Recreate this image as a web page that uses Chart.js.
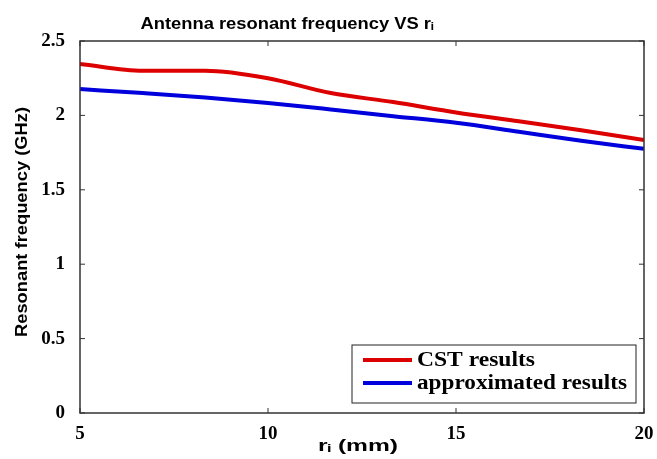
<!DOCTYPE html>
<html>
<head>
<meta charset="utf-8">
<script src="https://cdn.jsdelivr.net/npm/chart.js@4.4.1/dist/chart.umd.min.js"></script>
<style>
  html, body { margin: 0; padding: 0; background: #fff; }
  #wrap { width: 657px; height: 459px; position: relative; }
</style>
</head>
<body>
<div id="wrap"><canvas id="chart" width="657" height="459"></canvas></div>
<script>
// datos
const radius = [5, 6.67, 8.33, 10, 11.67, 13.33, 15, 16.67, 18.33, 20];
const cstResults = [2.345, 2.30, 2.30, 2.25, 2.15, 2.09, 2.02, 1.96, 1.90, 1.835];
const approxResults = [2.177, 2.15, 2.12, 2.083, 2.04, 1.995, 1.95, 1.89, 1.83, 1.775];
const xTicks = [5, 10, 15, 20];
const yTicks = [0, 0.5, 1, 1.5, 2, 2.5];

const titleText = 'Antenna resonant frequency VS r\u1D62';
const xTitle = 'r\u1D62 (mm)';
const yTitle = 'Resonant frequency (GHz)';

const sansBold = 'bold 16px "Liberation Sans", Arial, sans-serif';
const serifBold = 'bold 20px "Liberation Serif", "Times New Roman", serif';

// texto estirado horizontalmente hasta un ancho dado (la figura original esta estirada)
function fillStretched(ctx, text, x, y, width, align) {
  const w = ctx.measureText(text).width;
  const sx = width / w;
  ctx.save();
  ctx.translate(x, y);
  ctx.scale(sx, 1);
  ctx.textAlign = align;
  ctx.fillText(text, 0, 0);
  ctx.restore();
}

// marco, ticks hacia adentro, titulos y leyenda al estilo MATLAB
const matlabFrame = {
  id: 'matlabFrame',
  afterDraw(chart) {
    const ctx = chart.ctx;
    const a = chart.chartArea;
    const xs = chart.scales.x, ys = chart.scales.y;
    ctx.save();
    ctx.strokeStyle = '#333';
    ctx.lineWidth = 1.5;
    ctx.strokeRect(a.left, a.top, a.right - a.left, a.bottom - a.top);
    ctx.lineWidth = 1;
    xTicks.forEach(v => {
      const px = xs.getPixelForValue(v);
      ctx.beginPath();
      ctx.moveTo(px, a.bottom); ctx.lineTo(px, a.bottom - 5);
      ctx.moveTo(px, a.top); ctx.lineTo(px, a.top + 5);
      ctx.stroke();
    });
    yTicks.forEach(v => {
      const py = ys.getPixelForValue(v);
      ctx.beginPath();
      ctx.moveTo(a.left, py); ctx.lineTo(a.left + 5, py);
      ctx.moveTo(a.right, py); ctx.lineTo(a.right - 5, py);
      ctx.stroke();
    });

    ctx.fillStyle = '#000';
    ctx.textBaseline = 'alphabetic';

    // titulo
    ctx.font = sansBold;
    fillStretched(ctx, titleText, 287, 29, 293, 'center');

    // etiqueta eje x
    ctx.font = sansBold;
    fillStretched(ctx, xTitle, 358, 451, 80, 'center');

    // etiqueta eje y
    ctx.save();
    ctx.translate(22, 222);
    ctx.rotate(-Math.PI / 2);
    ctx.textBaseline = 'middle';
    ctx.font = 'bold 17px "Liberation Sans", Arial, sans-serif';
    fillStretched(ctx, yTitle, 0, 0, 230, 'center');
    ctx.restore();

    // leyenda
    const lx = 352, ly = 345, lw = 284, lh = 58;
    ctx.fillStyle = '#fff';
    ctx.fillRect(lx, ly, lw, lh);
    ctx.strokeStyle = '#222';
    ctx.lineWidth = 1;
    ctx.strokeRect(lx, ly, lw, lh);
    ctx.textBaseline = 'middle';
    ctx.font = serifBold;
    const legendWidths = [118, 210];
    chart.data.datasets.forEach((ds, i) => {
      const yy = ly + 15 + i * 23;
      ctx.strokeStyle = ds.borderColor;
      ctx.lineWidth = 4;
      ctx.beginPath();
      ctx.moveTo(363, yy); ctx.lineTo(412, yy);
      ctx.stroke();
      ctx.fillStyle = '#000';
      fillStretched(ctx, ds.label, 417, yy + 1, legendWidths[i], 'left');
    });
    ctx.restore();
  }
};

const tickFont = { family: '"Liberation Serif", "Times New Roman", serif', size: 19, weight: 'bold' };

new Chart(document.getElementById('chart').getContext('2d'), {
  type: 'line',
  data: {
    datasets: [
      {
        label: 'CST results',
        data: radius.map((r, i) => ({ x: r, y: cstResults[i] })),
        borderColor: '#dd0000',
        borderWidth: 4,
        pointRadius: 0,
        cubicInterpolationMode: 'monotone'
      },
      {
        label: 'approximated results',
        data: radius.map((r, i) => ({ x: r, y: approxResults[i] })),
        borderColor: '#0000dd',
        borderWidth: 4,
        pointRadius: 0,
        cubicInterpolationMode: 'monotone'
      }
    ]
  },
  options: {
    responsive: false,
    animation: false,
    layout: { padding: { left: 0, right: 13, top: 41, bottom: 0 } },
    plugins: {
      legend: { display: false },
      title: { display: false },
      tooltip: { enabled: false }
    },
    scales: {
      x: {
        type: 'linear',
        min: 5,
        max: 20,
        afterBuildTicks: s => { s.ticks = xTicks.map(v => ({ value: v })); },
        afterFit: s => { s.height = 46; },
        grid: { display: false },
        border: { display: false },
        ticks: {
          color: '#000',
          padding: 2,
          font: tickFont,
          callback: v => String(v)
        }
      },
      y: {
        type: 'linear',
        min: 0,
        max: 2.5,
        afterBuildTicks: s => { s.ticks = yTicks.map(v => ({ value: v })); },
        afterFit: s => { s.width = 80; },
        grid: { display: false },
        border: { display: false },
        ticks: {
          color: '#000',
          padding: 7,
          font: tickFont,
          callback: v => String(v)
        }
      }
    }
  },
  plugins: [matlabFrame]
});
</script>
</body>
</html>
